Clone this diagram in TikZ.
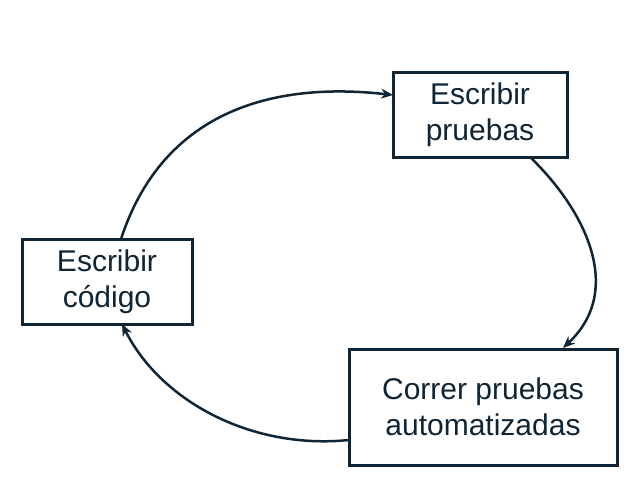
\documentclass[tikz,border=0pt]{standalone}
\usepackage{fontspec}
\setmainfont{Liberation Sans}
\usetikzlibrary{arrows.meta}
\definecolor{ink}{HTML}{0F2536}
\begin{document}
\begin{tikzpicture}[x=1pt,y=-1pt,
  box/.style={draw=ink,line width=3pt,text=ink,align=center,inner sep=0pt,
    font=\fontsize{30}{36}\selectfont},
  link/.style={draw=ink,line width=2.5pt,-{Stealth[length=12pt,width=10pt]}}]
\useasboundingbox (0,0) rectangle (638,490);
\node[box,minimum width=174pt,minimum height=85pt] (p) at (480,114.5) {Escribir\\pruebas};
\node[box,minimum width=170pt,minimum height=85pt] (c) at (107,281.5) {Escribir\\código};
\node[box,minimum width=268pt,minimum height=116pt] (r) at (483,407) {Correr pruebas\\automatizadas};
\coordinate (c1) at (121,239);
\coordinate (p1) at (393,95);
\coordinate (p2) at (530,157);
\coordinate (r1) at (563,348);
\coordinate (r2) at (349,440);
\coordinate (c2) at (122,324);
\draw[link] (c1) .. controls (160,120) and (260,80) .. (p1);
\draw[link] (p2) .. controls (585,210) and (625,290) .. (r1);
\draw[link] (r2) .. controls (250,450) and (160,400) .. (c2);
\end{tikzpicture}
\end{document}
